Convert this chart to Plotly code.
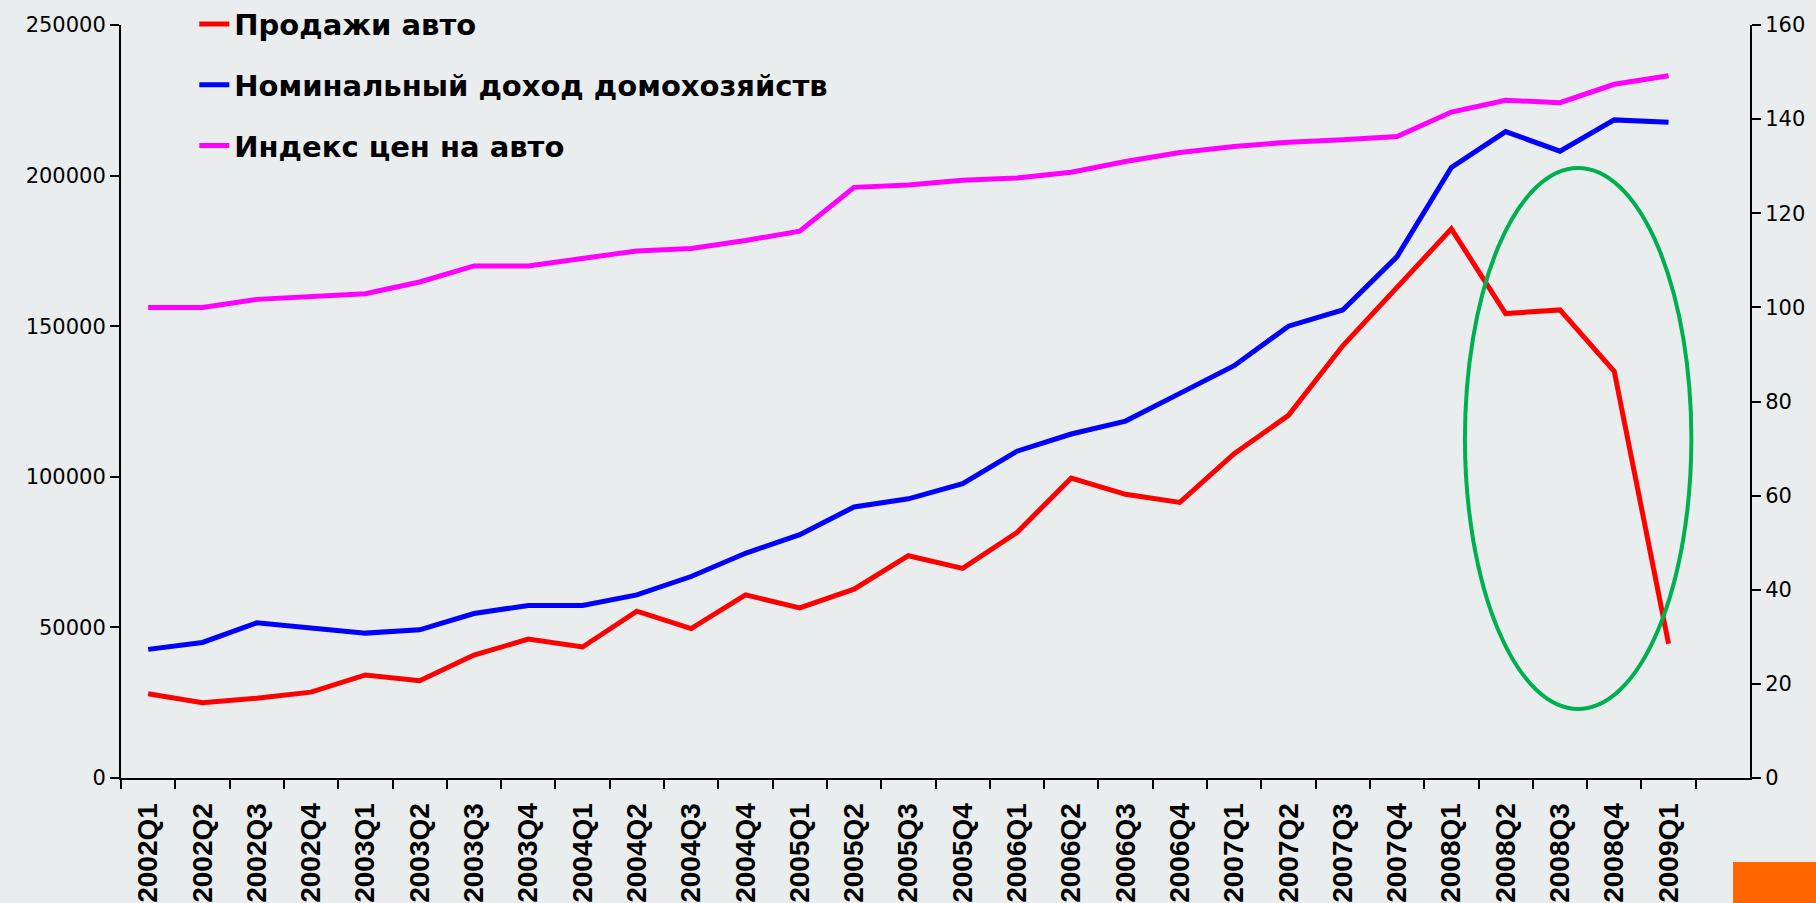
import plotly.graph_objects as go

quarters = [
    "2002Q1", "2002Q2", "2002Q3", "2002Q4",
    "2003Q1", "2003Q2", "2003Q3", "2003Q4",
    "2004Q1", "2004Q2", "2004Q3", "2004Q4",
    "2005Q1", "2005Q2", "2005Q3", "2005Q4",
    "2006Q1", "2006Q2", "2006Q3", "2006Q4",
    "2007Q1", "2007Q2", "2007Q3", "2007Q4",
    "2008Q1", "2008Q2", "2008Q3", "2008Q4",
    "2009Q1",
]

car_sales = [
    28000, 25000, 26500, 28500,
    34200, 32300, 40800, 46100,
    43500, 55400, 49600, 60800,
    56500, 62700, 73800, 69600,
    81500, 99600, 94200, 91500,
    107700, 120400, 143500, 162700,
    182300, 154200, 155400, 135000,
    44600,
]

household_income = [
    42700, 45000, 51500, 50000,
    48100, 49200, 54600, 57300,
    57300, 60800, 66900, 74600,
    80800, 90000, 92700, 97700,
    108500, 114200, 118500, 127700,
    136900, 150000, 155400, 173100,
    202700, 214600, 208100, 218500,
    217700,
]

car_price_index = [
    100.0, 100.0, 101.7, 102.4,
    102.9, 105.4, 108.8, 108.8,
    110.3, 112.0, 112.5, 114.2,
    116.2, 125.5, 126.0, 127.0,
    127.5, 128.7, 131.0, 132.9,
    134.2, 135.1, 135.6, 136.3,
    141.5, 144.0, 143.5, 147.4,
    149.2,
]

series_names = ["Продажи авто", "Номинальный доход домохозяйств", "Индекс цен на авто"]

left_ticks = [0, 50000, 100000, 150000, 200000, 250000]
right_ticks = [0, 20, 40, 60, 80, 100, 120, 140, 160]

# highlight ellipse bounds (data units: category index, left-axis value)
ellipse_x = [24.25, 28.42]
ellipse_y = [22900, 202500]

BG = "#E9EDEE"
axis_font = dict(family="DejaVu Sans, Verdana, sans-serif", size=21, color="black")

fig = go.Figure()
fig.add_trace(go.Scatter(x=quarters, y=car_sales, name=series_names[0], mode="lines",
                         line=dict(color="#FF0000", width=5), legendgroup="a"))
fig.add_trace(go.Scatter(x=quarters, y=household_income, name=series_names[1], mode="lines",
                         line=dict(color="#0000FF", width=5), legendgroup="b"))
fig.add_trace(go.Scatter(x=quarters, y=car_price_index, name=series_names[2], mode="lines",
                         line=dict(color="#FF00FF", width=5), legendgroup="c", yaxis="y2"))

fig.add_shape(type="circle", xref="x", yref="y",
              x0=ellipse_x[0], x1=ellipse_x[1], y0=ellipse_y[0], y1=ellipse_y[1],
              line=dict(color="#00B050", width=4))

# orange corner block
fig.add_shape(type="rect", xref="paper", yref="paper",
              x0=0.9896, x1=1.05, y0=-0.1661, y1=-0.1116,
              line=dict(width=0), fillcolor="#FF6600")

fig.update_layout(
    width=1816, height=903,
    margin=dict(l=121, r=66, t=25, b=125, autoexpand=False),
    paper_bgcolor=BG, plot_bgcolor=BG,
    showlegend=True,
    legend=dict(
        x=0.045, y=1.035, xanchor="left", yanchor="top",
        bgcolor="rgba(0,0,0,0)",
        font=dict(family="DejaVu Sans, Verdana, sans-serif",
                  size=29, color="black", weight="bold"),
        tracegroupgap=20, traceorder="grouped",
    ),
    xaxis=dict(
        type="category", categoryorder="array", categoryarray=quarters,
        range=[-0.5, 29.5], tickson="boundaries",
        ticks="outside", ticklen=9, tickwidth=2, tickcolor="black",
        ticklabelstandoff=12,
        showline=True, linecolor="black", linewidth=2,
        showgrid=False, zeroline=False, tickangle=-90,
        tickfont=dict(family="Liberation Sans, Arial, sans-serif", size=28, color="black", weight="bold"),
    ),
    yaxis=dict(
        range=[0, 250000], tickmode="array", tickvals=left_ticks,
        tickformat="d", ticks="outside", ticklen=9, tickwidth=2, tickcolor="black",
        showline=True, linecolor="black", linewidth=2, showgrid=False, zeroline=False,
        tickfont=axis_font,
    ),
    yaxis2=dict(
        overlaying="y", side="right", range=[0, 160], tickmode="array",
        tickvals=right_ticks,
        ticks="outside", ticklen=9, tickwidth=2, tickcolor="black",
        showline=True, linecolor="black", linewidth=2, showgrid=False, zeroline=False,
        tickfont=axis_font,
    ),
    yaxis3=dict(
        overlaying="y", side="right", anchor="x", range=[0, 160], tickmode="array",
        tickvals=right_ticks, showticklabels=False,
        ticks="inside", ticklen=9, tickwidth=2, tickcolor="black",
        showline=False, showgrid=False, zeroline=False,
    ),
)

page_css = (
    "document.documentElement.style.margin='0';"
    "document.body.style.margin='0';"
    "document.body.style.overflow='hidden';"
    "document.documentElement.style.background='" + BG + "';"
    "document.body.style.background='" + BG + "';"
)

fig.write_html("out.html", post_script=page_css, config={"displayModeBar": False})
